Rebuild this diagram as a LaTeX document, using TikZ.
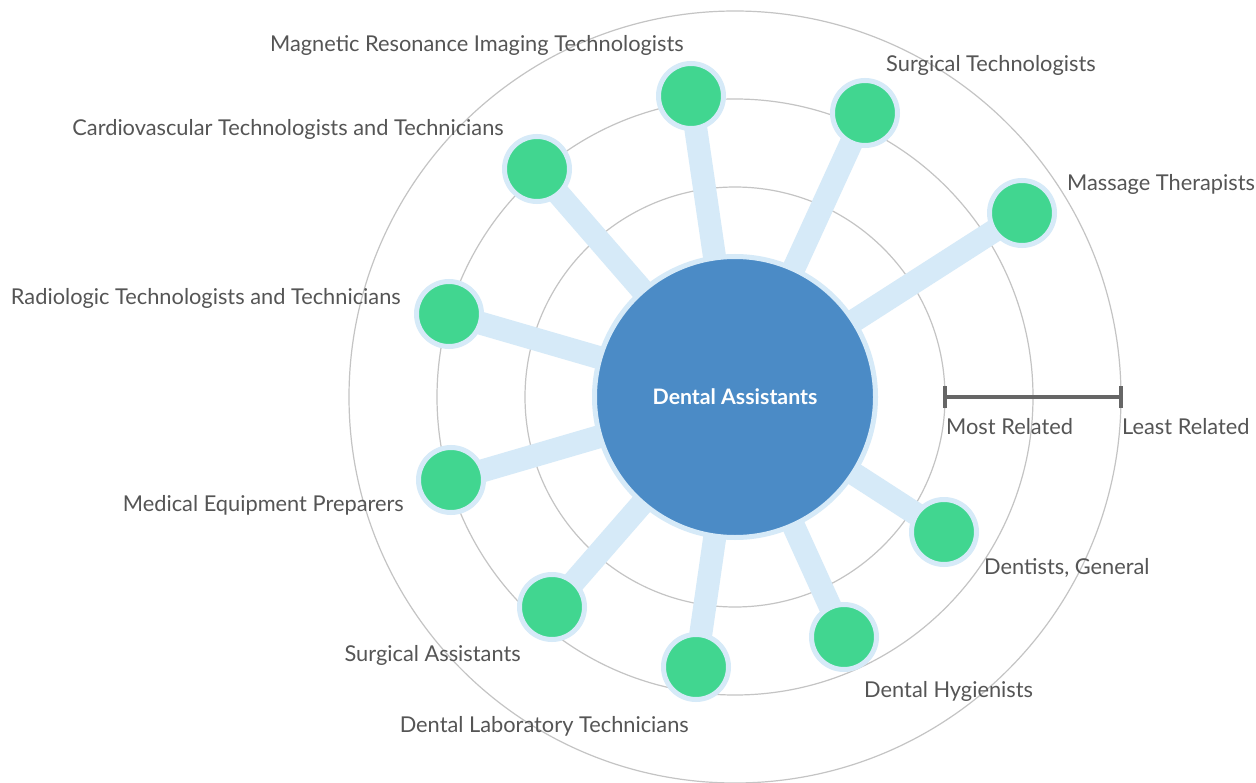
\documentclass[tikz,border=0pt]{standalone}
\usepackage{fontspec}
\setmainfont{Lato}
\usetikzlibrary{backgrounds}
\definecolor{hubblue}{HTML}{4B8BC6}
\definecolor{leafgreen}{HTML}{41D690}
\definecolor{spokeblue}{HTML}{D6EAF8}
\definecolor{ringgrey}{HTML}{C4C4C4}
\definecolor{labelgrey}{HTML}{555555}
\definecolor{bargrey}{HTML}{666666}
\tikzset{
  hub/.style={circle, fill=hubblue, draw=spokeblue, line width=5bp, minimum size=281bp, inner sep=0pt,
              text=white, font=\fontsize{21.3bp}{24bp}\selectfont\bfseries},
  leaf/.style={circle, fill=leafgreen, draw=spokeblue, line width=5bp, minimum size=65bp, inner sep=0pt},
  spoke/.style={draw=spokeblue, line width=23bp},
  ring/.style={draw=ringgrey, line width=1.2bp},
  lbl/.style={text=labelgrey, font=\fontsize{21.8bp}{25bp}\selectfont, inner sep=0pt},
  bar/.style={draw=bargrey, line width=4bp},
}
\begin{document}
\begin{tikzpicture}[x=1bp, y=-1bp]
\useasboundingbox (0,0) rectangle (1256,783);
\coordinate (o) at (735,397);

\node[hub] (c) at (o) {Dental Assistants};
\node[leaf] (mri) at (691,96) {};
\node[leaf] (st) at (865,113) {};
\node[leaf] (mt) at (1022,213) {};
\node[leaf] (cv) at (537,169) {};
\node[leaf] (rt) at (449,314) {};
\node[leaf] (me) at (451,480) {};
\node[leaf] (sa) at (552,607) {};
\node[leaf] (dl) at (696,667) {};
\node[leaf] (dh) at (844,637) {};
\node[leaf] (dg) at (944,532) {};

\begin{scope}[on background layer]
  \fill[white] (0,0) rectangle (1256,783);
  \draw[ring] (o) circle[radius=210];
  \draw[ring] (o) circle[radius=298];
  \draw[ring] (o) circle[radius=386];
  \foreach \n in {mri,st,mt,cv,rt,me,sa,dl,dh,dg}
    \draw[spoke] (c.center) -- (\n.center);
\end{scope}

% labels
\node[lbl, anchor=east] (lmri) at (684,45) {Magnetic Resonance Imaging Technologists};
\node[lbl, anchor=west] (lst) at (886,65) {Surgical Technologists};
\node[lbl, anchor=west] (lmt) at (1067,184) {Massage Therapists};
\node[lbl, anchor=east] (lcv) at (504,129) {Cardiovascular Technologists and Technicians};
\node[lbl, anchor=east] (lrt) at (401,298) {Radiologic Technologists and Technicians};
\node[lbl, anchor=east] (lme) at (404,505) {Medical Equipment Preparers};
\node[lbl, anchor=east] (lsa) at (521,655) {Surgical Assistants};
\node[lbl, anchor=east] (ldl) at (689,726) {Dental Laboratory Technicians};
\node[lbl, anchor=west] (ldh) at (864,691) {Dental Hygienists};
\node[lbl, anchor=west] (ldg) at (984,568) {Dentists, General};

% scale bar
\coordinate (b1) at (945,397);
\coordinate (b2) at (1121,397);
\draw[bar] (b1) -- (b2);
\draw[bar] ([yshift=-11bp]b1) -- ([yshift=11bp]b1);
\draw[bar] ([yshift=-11bp]b2) -- ([yshift=11bp]b2);
\node[lbl, anchor=west] (most) at (946,427) {Most Related};
\node[lbl, anchor=west] (least) at (1122,427) {Least Related};
\end{tikzpicture}
\end{document}
